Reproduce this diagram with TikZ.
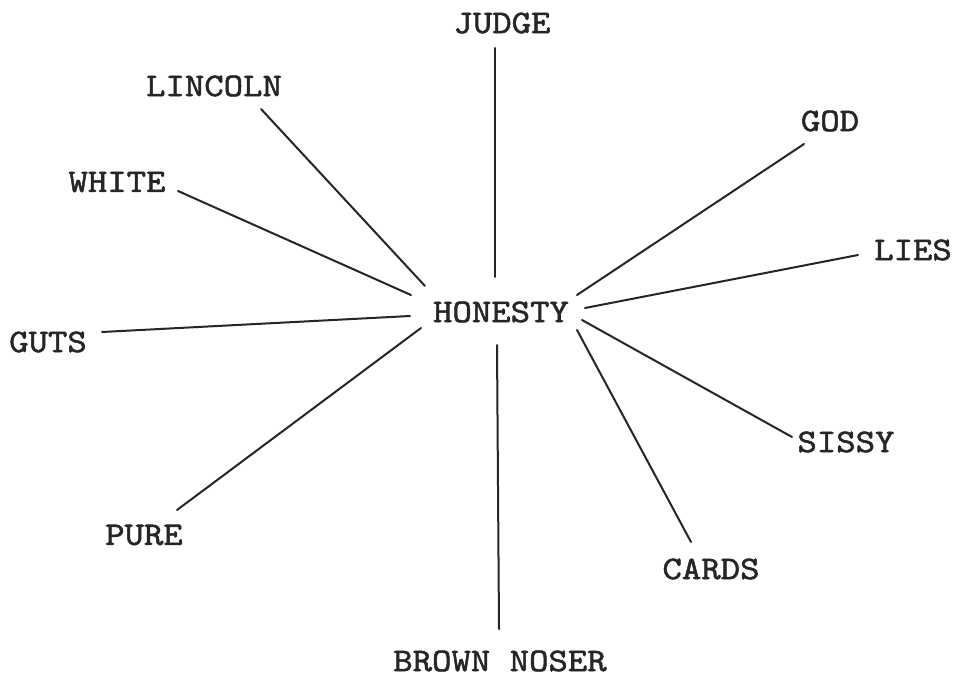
\documentclass[tikz,border=0pt]{standalone}
\usepackage{fontspec}
\newfontfamily\twfont[FakeStretch=1.12,FakeBold=1.6]{lmmono10-regular.otf}
\begin{document}
\begin{tikzpicture}[x=1pt,y=-1pt,
  lbl/.style={inner sep=0pt, font=\twfont\fontsize{33}{36}\selectfont, text=black!85},
  link/.style={line width=2pt, draw=black!85, line cap=round}]
\useasboundingbox[fill=white] (0,0) rectangle (955,677);
\node[lbl] (hon) at (501,312) {HONESTY};
\node[lbl] (judge) at (502,23) {JUDGE};
\node[lbl] (lincoln) at (214,86) {LINCOLN};
\node[lbl] (white) at (117,182) {WHITE};
\node[lbl] (guts) at (48,342) {GUTS};
\node[lbl] (pure) at (144,535) {PURE};
\node[lbl] (brown) at (500,661) {BROWN NOSER};
\node[lbl] (cards) at (711,569) {CARDS};
\node[lbl] (sissy) at (846,442) {SISSY};
\node[lbl] (lies) at (913,250) {LIES};
\node[lbl] (god) at (830,121) {GOD};
\draw[link] ([shift={(-6,-35)}]hon.center) -- ([shift={(-7,25)}]judge.center);
\draw[link] ([shift={(-76,-26)}]hon.center) -- ([shift={(47,23)}]lincoln.center);
\draw[link] ([shift={(-90,-17)}]hon.center) -- ([shift={(61,9)}]white.center);
\draw[link] ([shift={(-91,4)}]hon.center) -- ([shift={(54,-10)}]guts.center);
\draw[link] ([shift={(-80,16)}]hon.center) -- ([shift={(33,-25)}]pure.center);
\draw[link] ([shift={(-4,33)}]hon.center) -- ([shift={(-1,-32)}]brown.center);
\draw[link] ([shift={(76,18)}]hon.center) -- ([shift={(-20,-27)}]cards.center);
\draw[link] ([shift={(81,8)}]hon.center) -- ([shift={(-54,-5)}]sissy.center);
\draw[link] ([shift={(84,-4)}]hon.center) -- ([shift={(-55,5)}]lies.center);
\draw[link] ([shift={(76,-17)}]hon.center) -- ([shift={(-26,23)}]god.center);
\end{tikzpicture}
\end{document}
